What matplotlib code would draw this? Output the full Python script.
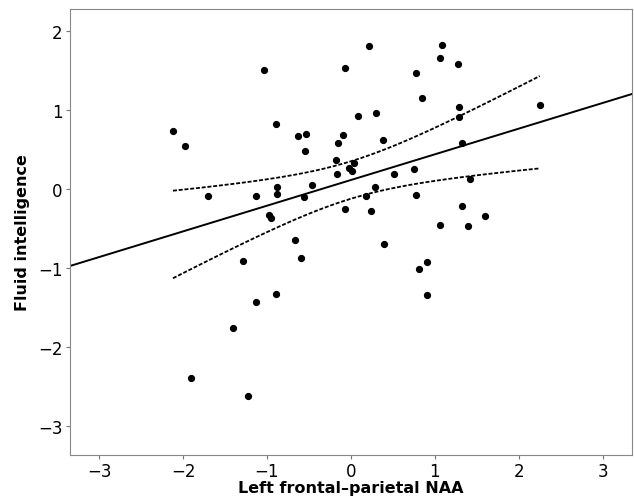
import numpy as np
import matplotlib.pyplot as plt

# points (x = left frontal-parietal NAA, y = fluid intelligence)
naa = [-1.04, -0.07, -2.12, -1.98, -0.89, -0.63, -0.53, -0.55, -0.09, -0.15,
       0.09, -0.18, 0.04, -0.16, -0.02, 0.01, -0.46, -1.70, -1.13, -0.88,
       -0.88, -0.56, -0.07, -0.98, -0.95, -0.67, 0.22, 1.09, 1.06, 1.27,
       0.77, 0.85, 1.29, 1.29, 2.25, 0.30, 0.38, 1.32, 0.51, 0.75,
       1.42, 0.29, 0.18, 0.77, 0.24, 1.32, 1.60, 1.06, 1.40, 0.40,
       -1.28, -0.59, -1.13, -0.89, -1.41, -1.90, -1.23, 0.91, 0.81, 0.91]
fluid = [1.51, 1.53, 0.74, 0.55, 0.82, 0.68, 0.70, 0.49, 0.69, 0.58,
         0.93, 0.37, 0.33, 0.19, 0.27, 0.23, 0.06, -0.09, -0.09, 0.03,
         -0.06, -0.10, -0.25, -0.32, -0.37, -0.64, 1.81, 1.82, 1.66, 1.58,
         1.47, 1.15, 1.04, 0.91, 1.07, 0.96, 0.62, 0.58, 0.19, 0.26,
         0.13, 0.03, -0.09, -0.07, -0.28, -0.21, -0.34, -0.45, -0.47, -0.69,
         -0.91, -0.87, -1.43, -1.32, -1.75, -2.39, -2.61, -0.92, -1.01, -1.34]

x = np.array(naa)
y = np.array(fluid)
n = len(x)
slope, icpt = np.polyfit(x, y, 1)
resid = y - (slope * x + icpt)
s = np.sqrt(np.sum(resid**2) / (n - 2))
sxx = np.sum((x - x.mean())**2)

fig = plt.figure(figsize=(6.34, 5.02), dpi=100)
ax = fig.add_axes([0.110, 0.092, 0.887, 0.888])

xl = np.linspace(-3.4, 3.4, 50)
ax.plot(xl, slope * xl + icpt, color='black', lw=1.4)

# 95% confidence band of the fit, over the data range
xc = np.linspace(x.min(), x.max(), 100)
half = 2.0 * s * np.sqrt(1.0 / n + (xc - x.mean())**2 / sxx)
yc = slope * xc + icpt
ax.plot(xc, yc + half, color='black', lw=1.3, ls=(0, (2.2, 1.0)))
ax.plot(xc, yc - half, color='black', lw=1.3, ls=(0, (2.2, 1.0)))

ax.plot(x, y, 'o', color='black', ms=4.2)

ax.set_xlim(-3.35, 3.35)
ax.set_ylim(-3.36, 2.28)
ax.set_xticks([-3, -2, -1, 0, 1, 2, 3])
ax.set_yticks([-3, -2, -1, 0, 1, 2])
ax.set_xticklabels(['\u22123', '\u22122', '\u22121', '0', '1', '2', '3'])
ax.set_yticklabels(['\u22123', '\u22122', '\u22121', '0', '1', '2'])
ax.tick_params(labelsize=12, length=3, color='#777777', pad=2)
for sp in ax.spines.values():
    sp.set_color('#888888')
ax.set_xlabel('Left frontal\u2013parietal NAA', fontsize=11.5, fontweight='bold', labelpad=0)
ax.set_ylabel('Fluid intelligence', fontsize=11.5, fontweight='bold', labelpad=6)

fig.savefig('out.png', dpi=100)
